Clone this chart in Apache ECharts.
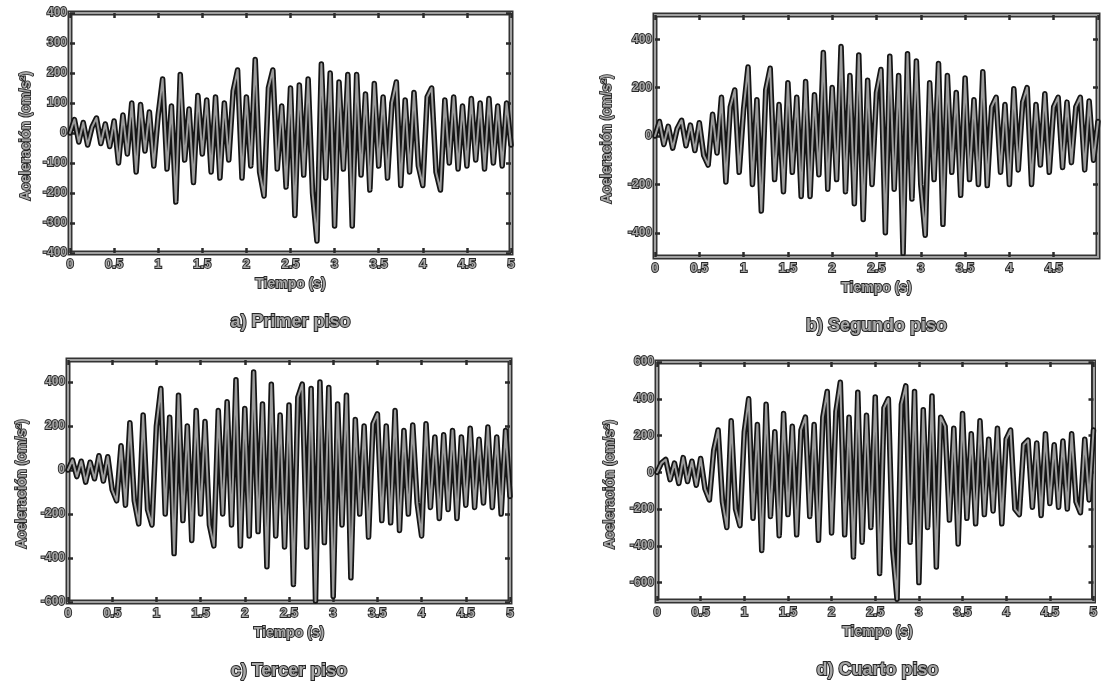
<!DOCTYPE html>
<html>
<head>
<meta charset="utf-8">
<title>Aceleración por piso</title>
<script src="https://cdn.jsdelivr.net/npm/echarts@6/dist/echarts.min.js"></script>
<style>
  html, body { margin: 0; padding: 0; background: #fff; }
  #chart { width: 1101px; height: 688px; }
</style>
</head>
<body>
<div id="chart"></div>
<script>
// Acceleration records (cm/s²) sampled every 0.05 s from 0 to 5 s
const TIME_STEP = 0.05;

const pisoUno = [
  0, 45, -30, 35, -40, 20, 50, -35, 30, -45,
  40, -100, 60, -70, 100, -130, 95, -60, 70, -110,
  60, 180, -120, 90, -230, 195, -90, 80, -165, 125,
  -70, 110, -130, 120, -150, 100, -90, 140, 210, -150,
  120, -110, 245, -130, -210, 150, 210, -120, 90, -180,
  150, -275, 160, -140, 180, -200, -360, 230, -150, 200,
  -310, 170, -120, 195, -310, 195, -140, 130, -190, 165,
  -110, 120, -150, 100, 170, -175, 110, -130, 135, -110,
  -175, 120, 150, -130, -190, 110, -100, 120, -120, 90,
  -110, 115, -90, 100, -120, 115, -100, 90, -110, 100,
  -40
];

const pisoDos = [
  0, 60, -35, 40, -50, 30, 65, -40, 45, -60,
  55, -80, -120, 90, -70, 160, -190, 120, 190, -150,
  110, 285, -200, 150, -310, 190, 280, -180, 130, -230,
  220, -150, 160, -250, 225, -250, 170, -160, 345, -220,
  200, -180, 370, -230, 250, -280, 335, -345, 230, -200,
  180, 275, -400, 330, -220, 250, -485, 340, -260, 310,
  -200, -410, 220, -180, 300, -365, 250, -150, 180, -245,
  240, -180, 150, -200, 265, -205, 120, 160, -150, 130,
  -200, 195, -140, 140, 200, -200, 130, -120, 175, -150,
  120, 160, -130, 140, -110, 120, 160, -140, 145, -100,
  60
];

const pisoTres = [
  0, 45, -30, 40, -55, 35, -40, 65, -50, 60,
  -90, -140, 110, -160, 215, -140, -245, 250, -180, -250,
  200, 370, -200, 240, -380, 340, -230, 200, -320, 270,
  -200, 220, -250, -345, 270, -200, 310, -250, 410, -345,
  280, -300, 445, -280, 300, -440, 390, -300, 250, -350,
  295, -520, 330, 390, -350, 370, -595, 400, -330, 375,
  -575, 300, -250, 340, -490, 230, -200, 200, -305, 210,
  255, -230, 200, -240, 270, -275, 180, -200, 205, -150,
  -300, 210, -170, 150, -220, 160, -180, 180, -220, 150,
  -160, 190, -170, 140, -150, 195, -170, 150, -200, 180,
  -120
];

const pisoCuatro = [
  0, 50, 70, -40, 50, -60, 80, -50, 60, -70,
  75, -90, -150, 120, 230, -160, -300, 280, -200, -290,
  220, 400, -250, 260, -425, 370, -240, 220, -345, 320,
  -230, 250, -340, 230, 300, -240, 260, -370, 300, 440,
  -330, 330, 490, -340, 300, -460, 435, -380, 310, -300,
  410, -550, 350, 400, -420, -690, 370, 470, -380, 440,
  -600, 340, -300, 415, -515, 300, 250, -260, 240, -390,
  320, -250, 210, -280, 280, -230, 180, -210, 240, -280,
  180, 230, -200, -230, 150, 175, -190, 160, -235, 210,
  -170, 150, -190, 170, -200, 210, -160, -220, 180, -150,
  230
];

// Axis ranges and labelled ticks for each floor
const xTicks = [0, 0.5, 1, 1.5, 2, 2.5, 3, 3.5, 4, 4.5, 5];
const yTicksUno = [-400, -300, -200, -100, 0, 100, 200, 300, 400];
const yTicksDos = [-400, -200, 0, 200, 400];
const yTicksTres = [-600, -400, -200, 0, 200, 400];
const yTicksCuatro = [-600, -400, -200, 0, 200, 400, 600];

const titles = ['a) Primer piso', 'b) Segundo piso', 'c) Tercer piso', 'd) Cuarto piso'];
const xName = 'Tiempo (s)';
const yName = 'Aceleración (cm/s²)';

const panels = [
  { values: pisoUno,    yMin: -400, yMax: 400, yTicks: yTicksUno,
    rect: { left: 70,  top: 13,  width: 441, height: 240 }, yNameX: 26,  showLast: true },
  { values: pisoDos,    yMin: -500, yMax: 500, yTicks: yTicksDos,
    rect: { left: 655, top: 15,  width: 443, height: 242 }, yNameX: 607, showLast: false },
  { values: pisoTres,   yMin: -600, yMax: 500, yTicks: yTicksTres,
    rect: { left: 68,  top: 360, width: 442, height: 242 }, yNameX: 22,  showLast: true },
  { values: pisoCuatro, yMin: -700, yMax: 600, yTicks: yTicksCuatro,
    rect: { left: 657, top: 362, width: 441, height: 239 }, yNameX: 610, showLast: true }
];

// Heavy outlined lettering
const FONT = 'Liberation Sans, Arial, sans-serif';
const FILL = '#a8a8a8';
const EDGE = '#262626';
const textLook = {
  fontFamily: FONT,
  fontWeight: 'bold',
  color: FILL,
  textBorderColor: EDGE,
  textBorderWidth: 1.8
};

const toPairs = values => values.map((v, i) => [Number((i * TIME_STEP).toFixed(2)), v]);

const grids = [], xAxes = [], yAxes = [], series = [], graphics = [];

panels.forEach((p, k) => {
  grids.push(Object.assign({
    show: true,
    borderColor: '#333333',
    borderWidth: 5,
    backgroundColor: 'transparent',
    containLabel: false
  }, p.rect));

  const frameLine = { show: true, onZero: false, lineStyle: { color: '#a0a0a0', width: 2 } };
  const tick = { show: true, inside: true, length: 5, lineStyle: { color: '#2a2a2a', width: 2.5 } };

  // bottom (labelled) and top time axes
  xAxes.push({
    type: 'value', gridIndex: k, min: 0, max: 5, interval: 0.5,
    position: 'bottom',
    axisLine: frameLine, axisTick: tick, splitLine: { show: false },
    axisLabel: Object.assign({ fontSize: 13, margin: 5, showMaxLabel: p.showLast,
      customValues: xTicks }, textLook)
  });
  xAxes.push({
    type: 'value', gridIndex: k, min: 0, max: 5, interval: 0.5,
    position: 'top',
    axisLine: frameLine, axisTick: tick, splitLine: { show: false },
    axisLabel: { show: false }
  });

  // left (labelled) and right acceleration axes
  yAxes.push({
    type: 'value', gridIndex: k, min: p.yMin, max: p.yMax, interval: 100,
    position: 'left',
    axisLine: frameLine,
    axisTick: Object.assign({ customValues: p.yTicks }, tick),
    splitLine: { show: false },
    axisLabel: Object.assign({ fontSize: 12, margin: 3, customValues: p.yTicks }, textLook)
  });
  yAxes.push({
    type: 'value', gridIndex: k, min: p.yMin, max: p.yMax, interval: 100,
    position: 'right',
    axisLine: frameLine,
    axisTick: Object.assign({ customValues: p.yTicks }, tick),
    splitLine: { show: false },
    axisLabel: { show: false }
  });

  const data = toPairs(p.values);
  // dark outer stroke with a grey core on top
  series.push({
    type: 'line', xAxisIndex: 2 * k, yAxisIndex: 2 * k, data,
    showSymbol: false, sampling: false, animation: false, clip: true,
    lineStyle: { color: '#151515', width: 5.5, join: 'round', cap: 'round' }, z: 2
  });
  series.push({
    type: 'line', xAxisIndex: 2 * k, yAxisIndex: 2 * k, data,
    showSymbol: false, sampling: false, animation: false, clip: true,
    lineStyle: { color: '#9c9c9c', width: 2, join: 'round', cap: 'round' }, z: 3
  });

  const cx = p.rect.left + p.rect.width / 2;
  const bottom = p.rect.top + p.rect.height;
  graphics.push({
    type: 'text', x: cx, y: bottom + 31,
    style: { text: xName, align: 'center', verticalAlign: 'middle',
      fill: FILL, stroke: EDGE, lineWidth: 1.8, font: 'bold 14px ' + FONT }
  });
  graphics.push({
    type: 'text', x: cx, y: bottom + 69,
    style: { text: titles[k], align: 'center', verticalAlign: 'middle',
      fill: FILL, stroke: EDGE, lineWidth: 2, font: 'bold 18px ' + FONT }
  });
  graphics.push({
    type: 'text', x: p.yNameX, y: p.rect.top + p.rect.height / 2 + 3, rotation: Math.PI / 2,
    style: { text: yName, align: 'center', verticalAlign: 'middle',
      fill: FILL, stroke: EDGE, lineWidth: 1.8, font: 'bold 14px ' + FONT }
  });
});

const chart = echarts.init(document.getElementById('chart'), null, { renderer: 'canvas' });
chart.setOption({
  backgroundColor: '#ffffff',
  animation: false,
  grid: grids,
  xAxis: xAxes,
  yAxis: yAxes,
  series: series,
  graphic: graphics
});
</script>
</body>
</html>
